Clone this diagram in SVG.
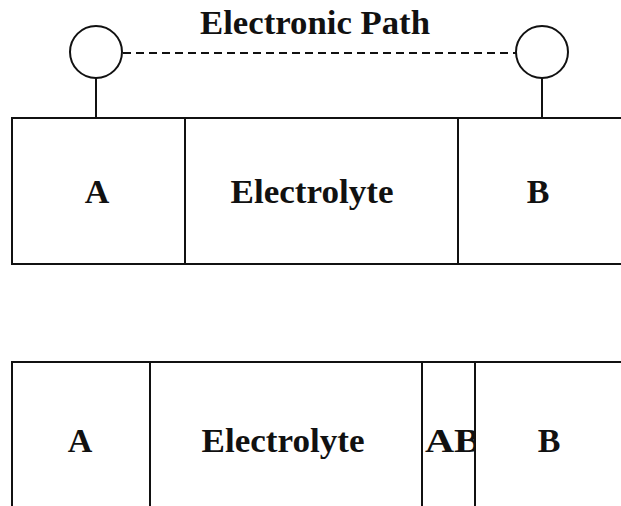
<svg xmlns="http://www.w3.org/2000/svg" width="621" height="506" viewBox="0 0 621 506">
<style>
.box{fill:#fff;stroke:#111;stroke-width:2}
.ln{stroke:#111;stroke-width:2;fill:none}
.t{font-family:"Liberation Serif","Times New Roman",serif;font-weight:bold;font-size:34px;fill:#111}
</style>
<defs>
<clipPath id="abclip"><rect x="423" y="362" width="51" height="144"/></clipPath>
</defs>
<rect width="621" height="506" fill="#fff"/>
<g id="connectors">
<line class="ln" x1="123" y1="53" x2="517" y2="53" stroke-dasharray="8,5" stroke-width="3.5"/>
<line class="ln" x1="96" y1="78" x2="96" y2="118"/>
<line class="ln" x1="542" y1="78" x2="542" y2="118"/>
</g>
<g id="label-path"><text class="t" x="315" y="34" text-anchor="middle" textLength="230" lengthAdjust="spacingAndGlyphs">Electronic Path</text></g>
<g id="terminal-left"><circle class="box" cx="96" cy="52" r="26"/></g>
<g id="terminal-right"><circle class="box" cx="542" cy="52" r="26"/></g>
<g id="top-A"><rect class="box" x="12" y="118" width="173" height="146"/><text class="t" x="97" y="203" text-anchor="middle">A</text></g>
<g id="top-electrolyte"><rect class="box" x="185" y="118" width="273" height="146"/><text class="t" x="312" y="203" text-anchor="middle" textLength="163" lengthAdjust="spacingAndGlyphs">Electrolyte</text></g>
<g id="top-B"><rect class="box" x="458" y="118" width="175" height="146"/><text class="t" x="538" y="203" text-anchor="middle">B</text></g>
<g id="bot-A"><rect class="box" x="12" y="362" width="138" height="160"/><text class="t" x="80" y="452" text-anchor="middle">A</text></g>
<g id="bot-electrolyte"><rect class="box" x="150" y="362" width="272" height="160"/><text class="t" x="283" y="452" text-anchor="middle" textLength="163" lengthAdjust="spacingAndGlyphs">Electrolyte</text></g>
<g id="bot-AB"><rect class="box" x="422" y="362" width="53" height="160"/><text class="t" x="425" y="452" clip-path="url(#abclip)" textLength="56" lengthAdjust="spacingAndGlyphs">AB</text></g>
<g id="bot-B"><rect class="box" x="475" y="362" width="158" height="160"/><text class="t" x="549" y="452" text-anchor="middle">B</text></g>
</svg>
